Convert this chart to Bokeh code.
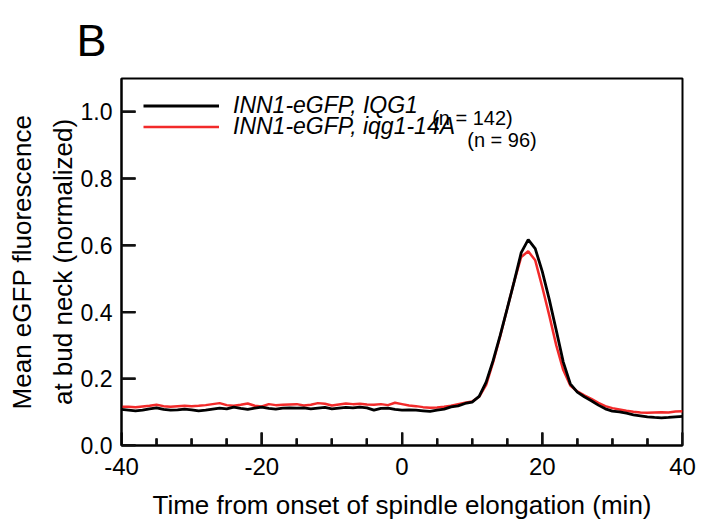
import math
from bokeh.plotting import figure
from bokeh.models import (Range1d, FixedTicker, PrintfTickFormatter, Legend,
                          LegendItem, Label, Title)
from bokeh.embed import file_html
from bokeh.resources import INLINE

# ---------------- data ----------------
TIME = list(range(-40, 41))  # min from onset of spindle elongation

IQG1 = [
    0.108, 0.106, 0.104, 0.106, 0.110, 0.113, 0.108, 0.106, 0.107, 0.109,   # -40..-31
    0.107, 0.104, 0.106, 0.109, 0.112, 0.110, 0.115, 0.111, 0.108, 0.112,   # -30..-21
    0.115, 0.111, 0.109, 0.112, 0.113, 0.112, 0.113, 0.110, 0.112, 0.114,   # -20..-11
    0.110, 0.112, 0.114, 0.113, 0.115, 0.113, 0.106, 0.111, 0.112, 0.108,   # -10..-1
    0.106, 0.107, 0.106, 0.104, 0.102, 0.106, 0.109, 0.116, 0.119, 0.126,   # 0..9
    0.130, 0.147, 0.190, 0.255, 0.330, 0.410, 0.492, 0.578, 0.617, 0.590,   # 10..19
    0.522, 0.438, 0.345, 0.250, 0.185, 0.160, 0.146, 0.134, 0.121, 0.110,   # 20..29
    0.103, 0.101, 0.097, 0.092, 0.089, 0.086, 0.084, 0.083, 0.084, 0.086,   # 30..39
    0.087,                                                                 # 40
]

IQG1_14A = [
    0.116, 0.116, 0.115, 0.117, 0.119, 0.122, 0.118, 0.116, 0.118, 0.119,   # -40..-31
    0.118, 0.119, 0.121, 0.124, 0.127, 0.121, 0.119, 0.122, 0.126, 0.119,   # -30..-21
    0.117, 0.124, 0.121, 0.122, 0.123, 0.124, 0.120, 0.122, 0.127, 0.125,   # -20..-11
    0.120, 0.123, 0.126, 0.124, 0.125, 0.123, 0.122, 0.124, 0.121, 0.128,   # -10..-1
    0.124, 0.120, 0.118, 0.115, 0.113, 0.114, 0.116, 0.119, 0.124, 0.128,   # 0..9
    0.132, 0.146, 0.182, 0.250, 0.327, 0.410, 0.492, 0.565, 0.582, 0.555,   # 10..19
    0.475, 0.390, 0.300, 0.226, 0.180, 0.162, 0.150, 0.140, 0.128, 0.118,   # 20..29
    0.112, 0.108, 0.104, 0.101, 0.099, 0.098, 0.099, 0.100, 0.099, 0.102,   # 30..39
    0.103,                                                                 # 40
]

X_TICKS = [-40, -20, 0, 20, 40]
X_MINOR_TICKS = [-35, -30, -25, -15, -10, -5, 5, 10, 15, 25, 30, 35]
Y_TICKS = [0.0, 0.2, 0.4, 0.6, 0.8, 1.0]

SERIES_LABELS = ["INN1-eGFP, IQG1", "INN1-eGFP, iqg1-14A"]
N_LABELS = ["(n = 142)", "(n = 96)"]
COLORS = ["#000000", "#f22a2a"]
TICK_COLOR = "#111111"

FONT = "Liberation Sans"

X_MIN, X_MAX = -40, 40
Y_MIN, Y_MAX = 0.0, 1.1

# inward tick lengths (px) turned into data units for the frame size
FRAME_W, FRAME_H = 561, 371
XTICK_MAJOR_PX, XTICK_MINOR_PX, YTICK_PX = 13, 7, 14
ypp = (Y_MAX - Y_MIN) / FRAME_H
xpp = (X_MAX - X_MIN) / FRAME_W

# ---------------- figure ----------------
p = figure(
    width=714, height=527,
    x_range=Range1d(X_MIN, X_MAX), y_range=Range1d(Y_MIN, Y_MAX),
    output_backend="svg", toolbar_location=None,
    min_border_left=121, min_border_right=32,
    min_border_top=74, min_border_bottom=82,
    background_fill_color="white", border_fill_color="white",
)
p.grid.visible = False
p.outline_line_color = "black"
p.outline_line_width = 2

# x axis (ticks point inward)
xa = p.xaxis[0]
xa.ticker = FixedTicker(ticks=X_TICKS, minor_ticks=X_MINOR_TICKS)
xa.major_label_overrides = {t: str(t) for t in X_TICKS}
xa.axis_label = "Time from onset of spindle elongation (min)"
xa.axis_line_width = 2
xa.axis_line_color = "black"
xa.major_tick_in = XTICK_MAJOR_PX
xa.major_tick_out = 0
xa.minor_tick_in = XTICK_MINOR_PX
xa.minor_tick_out = 0
xa.major_tick_line_color = TICK_COLOR
xa.minor_tick_line_color = TICK_COLOR
xa.major_tick_line_width = 2
xa.minor_tick_line_width = 2
xa.major_label_text_font = FONT
xa.major_label_text_font_size = "24px"
xa.major_label_text_color = "black"
xa.major_label_standoff = 12
xa.axis_label_text_font = FONT
xa.axis_label_text_font_size = "26px"
xa.axis_label_text_font_style = "normal"
xa.axis_label_text_color = "black"
xa.axis_label_standoff = 12

# y axis (ticks point inward)
ya = p.yaxis[0]
ya.ticker = FixedTicker(ticks=Y_TICKS, minor_ticks=[])
ya.formatter = PrintfTickFormatter(format="%.1f")
ya.axis_label = "Mean eGFP fluorescence\nat bud neck (normalized)"
ya.axis_line_width = 2
ya.axis_line_color = "black"
ya.major_tick_in = YTICK_PX
ya.major_tick_out = 0
ya.major_tick_line_color = TICK_COLOR
ya.major_tick_line_width = 2
ya.minor_tick_line_color = None
ya.major_label_text_font = FONT
ya.major_label_text_font_size = "23px"
ya.major_label_text_color = "black"
ya.major_label_standoff = 9
ya.axis_label_text_font = FONT
ya.axis_label_text_font_size = "26px"
ya.axis_label_text_font_style = "normal"
ya.axis_label_text_color = "black"
ya.axis_label_text_line_height = 1.35
ya.axis_label_standoff = 0

# the same inward ticks as glyphs, built from the tick lists
p.segment(x0=X_TICKS, y0=[Y_MIN] * len(X_TICKS), x1=X_TICKS,
          y1=[Y_MIN + XTICK_MAJOR_PX * ypp] * len(X_TICKS),
          line_color=TICK_COLOR, line_width=2)
p.segment(x0=X_MINOR_TICKS, y0=[Y_MIN] * len(X_MINOR_TICKS), x1=X_MINOR_TICKS,
          y1=[Y_MIN + XTICK_MINOR_PX * ypp] * len(X_MINOR_TICKS),
          line_color=TICK_COLOR, line_width=2)
p.segment(x0=[X_MIN] * len(Y_TICKS), y0=Y_TICKS,
          x1=[X_MIN + YTICK_PX * xpp] * len(Y_TICKS), y1=Y_TICKS,
          line_color=TICK_COLOR, line_width=2)
# and once more as dash markers, centred half a tick length inside the frame
p.scatter(x=X_TICKS, y=[Y_MIN + XTICK_MAJOR_PX / 2 * ypp] * len(X_TICKS),
          marker="dash", size=XTICK_MAJOR_PX, angle=math.pi / 2,
          line_color=TICK_COLOR, line_width=2)
p.scatter(x=X_MINOR_TICKS, y=[Y_MIN + XTICK_MINOR_PX / 2 * ypp] * len(X_MINOR_TICKS),
          marker="dash", size=XTICK_MINOR_PX, angle=math.pi / 2,
          line_color=TICK_COLOR, line_width=2)
p.scatter(x=[X_MIN + YTICK_PX / 2 * xpp] * len(Y_TICKS), y=Y_TICKS,
          marker="dash", size=YTICK_PX,
          line_color=TICK_COLOR, line_width=2)

# series (red first so black sits on top, as in the reference)
r_mut = p.line(TIME, IQG1_14A, line_color=COLORS[1], line_width=2.5)
r_wt = p.line(TIME, IQG1, line_color=COLORS[0], line_width=2.8)

# legend: one single-row legend per series so the rows sit 21 px apart
legend_style = dict(
    orientation="vertical",
    glyph_width=76, glyph_height=21, label_height=21,
    label_standoff=14, spacing=0, padding=0, margin=0,
    border_line_color=None, background_fill_alpha=0,
    label_text_font=FONT, label_text_font_size="23px",
    label_text_font_style="italic", label_text_color="black",
)
p.add_layout(Legend(items=[LegendItem(label=SERIES_LABELS[0], renderers=[r_wt])],
                    location=(22, 326), **legend_style))
p.add_layout(Legend(items=[LegendItem(label=SERIES_LABELS[1], renderers=[r_mut])],
                    location=(22, 305), **legend_style))

# the "(n = ...)" parts of the legend, set upright and smaller
p.add_layout(Label(x=4.3, y=0.981, text=N_LABELS[0], text_font=FONT,
                   text_font_size="20px", text_color="black",
                   text_baseline="alphabetic", text_align="left"))
p.add_layout(Label(x=9.3, y=0.916, text=N_LABELS[1], text_font=FONT,
                   text_font_size="20px", text_color="black",
                   text_baseline="alphabetic", text_align="left"))

# panel letter
p.add_layout(Title(text="B", align="left", offset=-45, standoff=25,
                   text_font=FONT, text_font_size="45px",
                   text_font_style="normal", text_color="black"), "above")

open("out.html", "w").write(file_html(p, INLINE))
